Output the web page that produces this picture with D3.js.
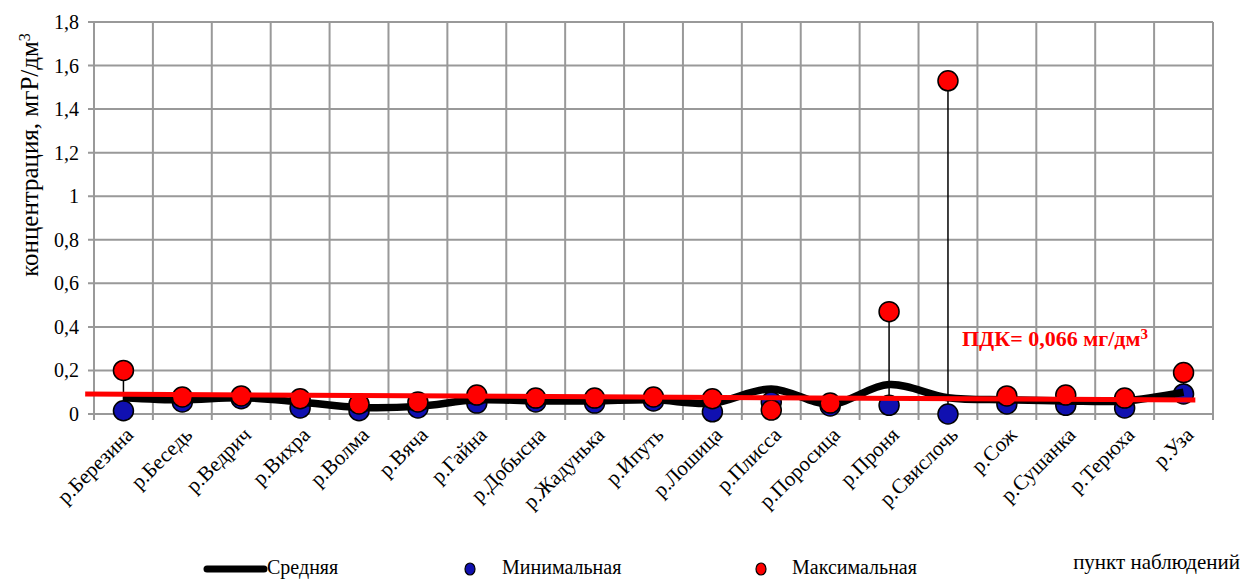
<!DOCTYPE html>
<html>
<head>
<meta charset="utf-8">
<script src="https://cdn.jsdelivr.net/npm/d3@7"></script>
<style>
  body { margin: 0; background: #fff; }
  text { font-family: "Liberation Serif", "Times New Roman", serif; }
</style>
</head>
<body>
<svg id="chart"></svg>
<script>
// river names (categories)
var rivers = ["р.Березина", "р.Беседь", "р.Ведрич", "р.Вихра", "р.Волма", "р.Вяча",
  "р.Гайна", "р.Добысна", "р.Жадунька", "р.Ипуть", "р.Лошица", "р.Плисса",
  "р.Поросица", "р.Проня", "р.Свислочь", "р.Сож", "р.Сушанка", "р.Терюха", "р.Уза"];

var meanVals = [0.075, 0.065, 0.075, 0.055, 0.03, 0.035, 0.065, 0.06, 0.06, 0.065,
  0.05, 0.115, 0.045, 0.135, 0.075, 0.065, 0.06, 0.06, 0.1];
var minVals = [0.015, 0.055, 0.07, 0.028, 0.015, 0.028, 0.05, 0.055, 0.05, 0.06,
  0.01, 0.055, 0.037, 0.04, 0.0, 0.046, 0.04, 0.028, 0.092];
var maxVals = [0.2, 0.078, 0.083, 0.07, 0.046, 0.055, 0.087, 0.073, 0.073, 0.078,
  0.07, 0.018, 0.05, 0.47, 1.53, 0.083, 0.087, 0.073, 0.19];

var yTicks = [0, 0.2, 0.4, 0.6, 0.8, 1, 1.2, 1.4, 1.6, 1.8];
// red limit line: [category position, value] at both ends
var pdkLine = [[-0.65, 0.092], [18.2, 0.064]];
var pdkLabel = "ПДК= 0,066 мг/дм";

var W = 1243, H = 579;
var FONT = "'Liberation Serif', 'Times New Roman', serif";
var svg = d3.select("#chart").attr("width", W).attr("height", H)
  .attr("font-family", FONT);

var plotL = 94, plotR = 1213, plotT = 22, plotB = 414;

var x = d3.scaleBand().domain(rivers).range([plotL, plotR]).padding(0);
var y = d3.scaleLinear().domain([0, 1.8]).range([plotB, plotT]);
var cx = function (i) { return x(rivers[i]) + x.bandwidth() / 2; };
// continuous position by category index (for the limit line)
var xi = d3.scaleLinear().domain([0, rivers.length - 1]).range([cx(0), cx(rivers.length - 1)]);

// grid
var grid = svg.append("g");
grid.selectAll(".hg").data(yTicks).enter().append("line")
  .attr("x1", plotL - 6).attr("x2", plotR)
  .attr("y1", function (d) { return y(d); }).attr("y2", function (d) { return y(d); })
  .attr("stroke", "#999").attr("stroke-width", 2);
var vlines = rivers.map(function (r) { return x(r); }).concat([plotR]);
grid.selectAll(".vg").data(vlines).enter().append("line")
  .attr("x1", function (d) { return d; }).attr("x2", function (d) { return d; })
  .attr("y1", plotT).attr("y2", plotB + 6)
  .attr("stroke", "#999").attr("stroke-width", 2);

// y labels
svg.append("g").selectAll("text").data(yTicks).enter().append("text")
  .attr("x", plotL - 15).attr("y", function (d) { return y(d); })
  .attr("dy", "0.35em").attr("text-anchor", "end")
  .attr("font-size", 20)
  .text(function (d) { return String(d).replace(".", ","); });

// y title
var yt = svg.append("text")
  .attr("transform", "translate(38," + 155 + ") rotate(-90)")
  .attr("text-anchor", "middle").attr("font-size", 25)
  .text("концентрация, мгР/дм");
yt.append("tspan").attr("dy", "-0.5em").attr("font-size", 16).text("3");

// x labels
svg.append("g").selectAll("text").data(rivers).enter().append("text")
  .attr("transform", function (d, i) { return "translate(" + (cx(i) + 6) + "," + 431 + ") rotate(-45)"; })
  .attr("text-anchor", "end").attr("font-size", 21)
  .attr("dy", "0.35em")
  .text(function (d) { return d; });

// high-low lines
svg.append("g").selectAll("line").data(rivers).enter().append("line")
  .attr("x1", function (d, i) { return cx(i); }).attr("x2", function (d, i) { return cx(i); })
  .attr("y1", function (d, i) { return y(Math.max(maxVals[i], minVals[i])); })
  .attr("y2", function (d, i) { return y(Math.min(maxVals[i], minVals[i])); })
  .attr("stroke", "#000").attr("stroke-width", 1.5);

// min points
svg.append("g").selectAll("circle").data(minVals).enter().append("circle")
  .attr("cx", function (d, i) { return cx(i); }).attr("cy", function (d) { return y(d); })
  .attr("r", 10).attr("fill", "#1010b0").attr("stroke", "#000").attr("stroke-width", 1.5);

// mean line
var line = d3.line()
  .x(function (d, i) { return cx(i); })
  .y(function (d) { return y(d); })
  .curve(d3.curveCatmullRom);
svg.append("path").datum(meanVals).attr("d", line)
  .attr("fill", "none").attr("stroke", "#000").attr("stroke-width", 7.5);

// max points
svg.append("g").selectAll("circle").data(maxVals).enter().append("circle")
  .attr("cx", function (d, i) { return cx(i); }).attr("cy", function (d) { return y(d); })
  .attr("r", 10).attr("fill", "#ff0000").attr("stroke", "#000").attr("stroke-width", 1.5);

// limit line
svg.append("path").datum(pdkLine)
  .attr("d", d3.line().x(function (d) { return xi(d[0]); }).y(function (d) { return y(d[1]); }))
  .attr("stroke", "#ff0000").attr("stroke-width", 5).attr("fill", "none");

var pl = svg.append("text").attr("x", 962).attr("y", 346)
  .attr("font-size", 22).attr("font-weight", "bold").attr("fill", "#ff0000")
  .text(pdkLabel);
pl.append("tspan").attr("dy", "-0.45em").attr("font-size", 15).text("3");

// legend
var lg = svg.append("g");
lg.append("line").attr("x1", 207).attr("x2", 264).attr("y1", 569).attr("y2", 569)
  .attr("stroke", "#000").attr("stroke-width", 7).attr("stroke-linecap", "round");
lg.append("text").attr("x", 267).attr("y", 574).attr("font-size", 20).text("Средняя");
lg.append("ellipse").attr("cx", 470).attr("cy", 569).attr("rx", 5).attr("ry", 6)
  .attr("fill", "#1010b0").attr("stroke", "#000").attr("stroke-width", 1.2);
lg.append("text").attr("x", 502).attr("y", 574).attr("font-size", 20).text("Минимальная");
lg.append("ellipse").attr("cx", 761).attr("cy", 569).attr("rx", 5).attr("ry", 6)
  .attr("fill", "#ff0000").attr("stroke", "#000").attr("stroke-width", 1.2);
lg.append("text").attr("x", 792).attr("y", 574).attr("font-size", 20).text("Максимальная");

svg.append("text").attr("x", 1240).attr("y", 569).attr("text-anchor", "end")
  .attr("font-size", 21).text("пункт наблюдений");
</script>
</body>
</html>
